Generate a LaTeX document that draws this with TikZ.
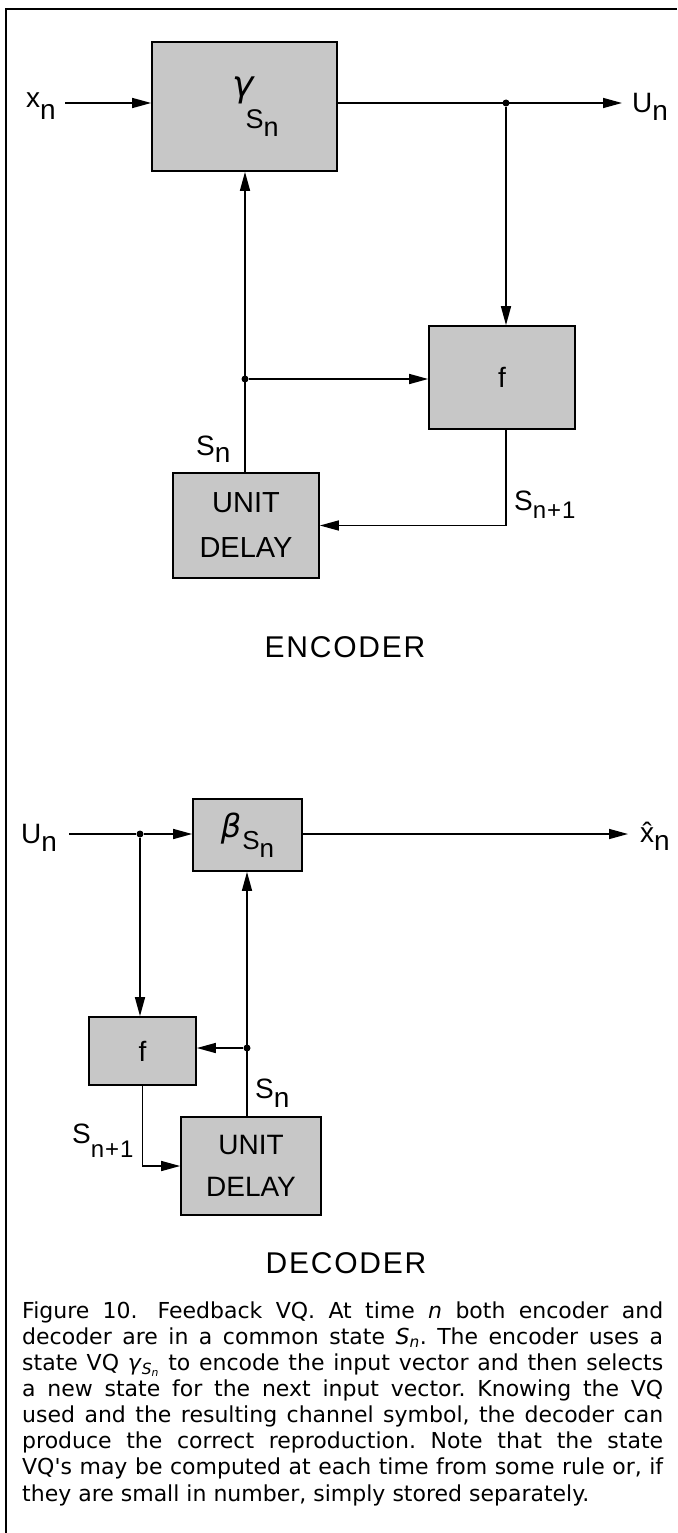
\documentclass[tikz,border=0pt]{standalone}
\usepackage{fontspec}
\setmainfont{Liberation Sans}
\newfontfamily\dvs{DejaVu Sans}
\usetikzlibrary{arrows.meta}
\newcommand{\lo}[2]{\raisebox{-#1}{#2}}
\tikzset{
  blk/.style={draw, line width=1.7pt, fill=black!22, inner sep=0pt},
  wire/.style={line width=1.5pt},
  arr/.style={wire, -{Triangle[length=19pt,width=10pt]}},
  jdot/.style={circle, fill, inner sep=0pt, minimum size=7pt},
  lbl/.style={font=\fontsize{28}{28}\selectfont, inner sep=0pt, anchor=base west},
  ttl/.style={font=\fontsize{30}{30}\selectfont\addfontfeature{LetterSpace=6}, inner sep=0pt, anchor=base},
  dly/.style={blk, align=center, font=\fontsize{29}{45}\selectfont},
  capl/.style={font=\dvs\fontsize{22}{26}\selectfont\frenchspacing, inner sep=0pt, anchor=base west},
}
\begin{document}
\begin{tikzpicture}[x=1pt, y=-1pt]
\fill[white] (0,0) rectangle (677,1533);
\useasboundingbox (0,0) rectangle (677,1533);
% frame
\draw[line width=1.6pt] (6,1533) -- (6,9) -- (677,9);

% ---------------- ENCODER ----------------
\node[blk, minimum width=185pt, minimum height=129pt] (gam) at (244.5,106.5)
  {\hspace{22pt}{\fontsize{36}{36}\dvs\itshape γ}\kern-8pt\lo{32pt}{\fontsize{27}{27}\selectfont S\lo{8pt}{n}}};
\node[blk, minimum width=146pt, minimum height=103pt, font=\fontsize{28}{28}\selectfont] (ef) at (502,377.5) {f};
\node[dly, minimum width=146pt, minimum height=105pt] (eud) at (246,525.5) {UNIT\\DELAY};

\coordinate (xin) at (65,103);
\coordinate (uout) at (622,103);
\node[jdot] (d1) at (506,103) {};
\node[jdot] (d2) at (245,379) {};

\draw[arr] (xin) -- (xin -| gam.west);
\draw[arr] (xin -| gam.east) -- (uout);
\draw[arr] (d1) -- (d1 |- ef.north);
\draw[arr] (d2 |- eud.north) -- (d2 |- gam.south);
\draw[arr] (d2) -- (d2 -| ef.west);
\draw[arr] (d1 |- ef.south) |- (eud.east);

\node[lbl] (lx) at (26,108) {x\lo{12pt}{n}};
\node[lbl] (lu) at (632,113) {U\lo{8pt}{n}};
\node[lbl] (lsn) at (196,455) {S\lo{7pt}{n}};
\node[lbl] (lsn1) at (514,510) {S\lo{8pt}{\fontsize{24}{24}\selectfont n\kern1pt+\kern1pt1}};
\node[ttl] (enc) at (345,657) {ENCODER};

% ---------------- DECODER ----------------
\node[blk, minimum width=109pt, minimum height=72pt] (bet) at (247.5,835)
  {{\fontsize{32}{32}\dvs\itshape β}\kern1pt\lo{12pt}{\fontsize{26}{26}\selectfont S\lo{8pt}{n}}};
\node[blk, minimum width=107pt, minimum height=68pt, font=\fontsize{28}{28}\selectfont] (df) at (142.5,1051) {f};
\node[dly, minimum width=140pt, minimum height=98pt, font=\fontsize{28}{42}\selectfont] (dud) at (251,1166) {UNIT\\DELAY};

\coordinate (uin) at (69,834);
\coordinate (xout) at (628,834);
\node[jdot] (d3) at (140,834) {};
\node[jdot] (d4) at (247,1048) {};

\draw[wire] (uin) -- (d3);
\draw[arr] (d3) -- (d3 -| bet.west);
\draw[arr] (d3 -| bet.east) -- (xout);
\draw[arr] (d3) -- (d3 |- df.north);
\draw[arr] (d4 |- dud.north) -- (d4 |- bet.south);
\draw[arr] (d4) -- (d4 -| df.east);
\draw[arr] (df.south) |- (dud.west);

\node[lbl] (lud) at (21,843) {U\lo{8pt}{n}};
\node[lbl] (lxh) at (640,842) {\^{x}\lo{8pt}{n}};
\node[lbl] (lsnd) at (255,1098) {S\lo{9pt}{n}};
\node[lbl] (lsn1d) at (72,1143) {S\lo{14pt}{\fontsize{24}{24}\selectfont n\kern1pt+\kern1pt1}};
\node[ttl] (dec) at (346,1273) {DECODER};

% ---------------- CAPTION ----------------
\node[capl] (c1) at (22,1318) {\makebox[641pt][s]{Figure 10.\hspace{0.3em} Feedback VQ. At time \textit{n} both encoder and}};
\node[capl] (c2) at (22,1344) {\makebox[641pt][s]{decoder are in a common state \textit{S}\textsubscript{\textit{n}}. The encoder uses a}};
\node[capl] (c3) at (22,1370) {\makebox[641pt][s]{state VQ \textit{γ}\textsubscript{\textit{S}\textsubscript{\textit{n}}} to encode the input vector and then selects}};
\node[capl] (c4) at (22,1396) {\makebox[641pt][s]{a new state for the next input vector. Knowing the VQ}};
\node[capl] (c5) at (22,1422) {\makebox[641pt][s]{used and the resulting channel symbol, the decoder can}};
\node[capl] (c6) at (22,1448) {\makebox[641pt][s]{produce the correct reproduction. Note that the state}};
\node[capl] (c7) at (22,1474) {\makebox[641pt][s]{VQ's may be computed at each time from some rule or, if}};
\node[capl] (c8) at (22,1501) {they are small in number, simply stored separately.};
\end{tikzpicture}
\end{document}
